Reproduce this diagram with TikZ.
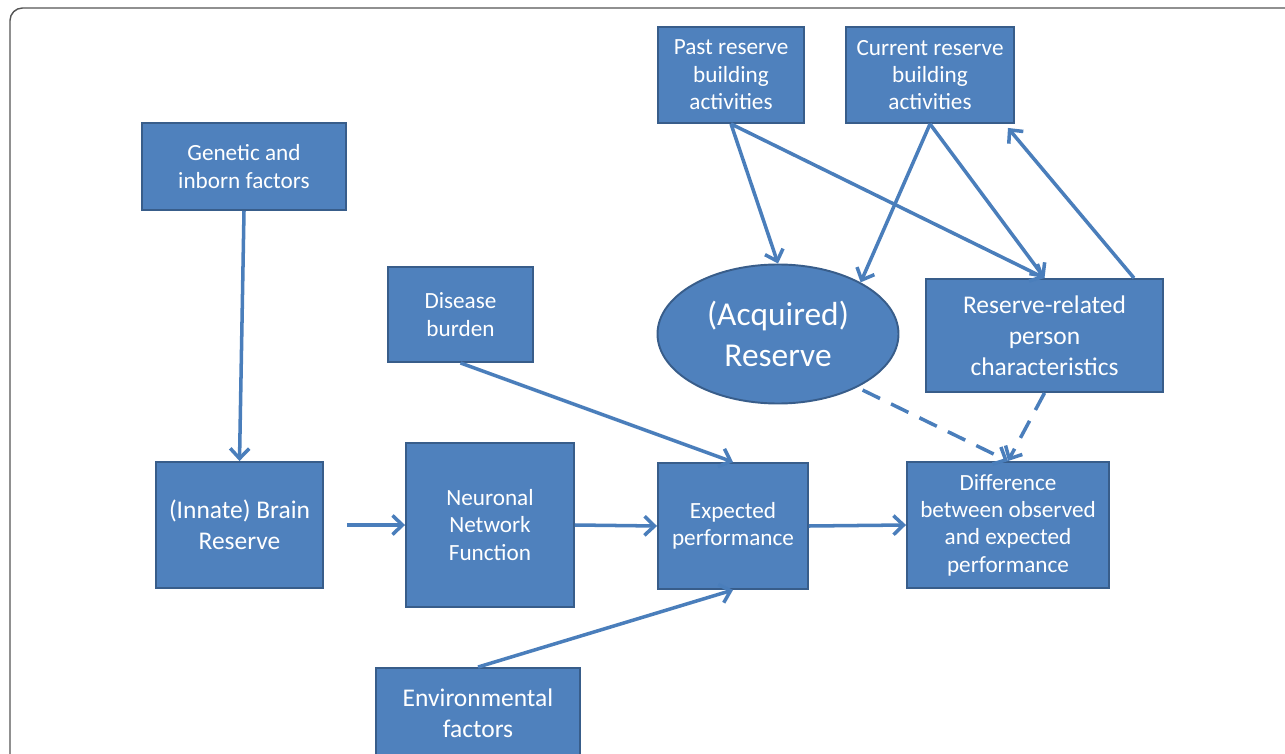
\documentclass[tikz,border=0pt]{standalone}
\usepackage{fontspec}
\setmainfont{Carlito}
\usepackage{tikz}
\usetikzlibrary{positioning, arrows.meta, shapes.geometric}

\definecolor{boxfill}{HTML}{4F81BD}
\definecolor{boxline}{HTML}{385D8A}
\definecolor{arrowblue}{HTML}{4A7EBB}
\definecolor{framegray}{HTML}{555555}

\begin{document}
\begin{tikzpicture}[>={Straight Barb[length=2mm, width=3.8mm]},
  box/.style={draw=boxline, fill=boxfill, line width=1.1pt, text=white,
    align=center, inner sep=0pt},
  smalltext/.style={font=\fontsize{13.2}{15.6}\selectfont},
  bigtext/.style={font=\fontsize{14.5}{17.6}\selectfont},
  link/.style={->, arrowblue, line width=2pt},
  maybe/.style={link, dash pattern=on 11pt off 7pt}]

\useasboundingbox (0, 0) rectangle (25.7, 15.06);

% --- Outer frame ---
\draw[framegray, line width=0.8pt, rounded corners=0.25cm]
  (0.2, -0.5) -- (0.2, 14.9) -- (26.0, 14.9);

% --- Top row: reserve building activities ---
\node[box, smalltext, minimum width=2.92cm, minimum height=1.92cm]
  (past) at (14.62, 13.56) {Past reserve\\building\\activities};
\node[box, smalltext, minimum width=3.36cm, minimum height=1.92cm]
  (current) at (18.60, 13.56) {Current reserve\\building\\activities};

% --- Left column ---
\node[box, smalltext, minimum width=4.08cm, minimum height=1.74cm]
  (genetic) at (4.88, 11.73) {Genetic and\\inborn factors};
\node[box, smalltext, minimum width=2.90cm, minimum height=1.90cm]
  (disease) at (9.21, 8.77) {Disease\\burden};

% --- Acquired reserve and person characteristics ---
\node[ellipse, box, font=\fontsize{19}{23.2}\selectfont,
  minimum width=4.82cm, minimum height=2.78cm]
  (acquired) at (15.56, 8.38) {(Acquired)\\Reserve};
\node[box, bigtext, minimum width=4.74cm, minimum height=2.26cm]
  (related) at (20.89, 8.35) {Reserve-related\\person\\characteristics};

% --- Main chain ---
\node[box, bigtext, minimum width=3.34cm, minimum height=2.52cm]
  (innate) at (4.79, 4.56) {(Innate) Brain\\Reserve};
\node[box, smalltext, minimum width=3.36cm, minimum height=3.28cm]
  (neuronal) at (9.80, 4.56) {Neuronal\\Network\\Function};
\node[box, smalltext, minimum width=3.00cm, minimum height=2.52cm]
  (expected) at (14.66, 4.54) {Expected\\performance};
\node[box, smalltext, minimum width=4.04cm, minimum height=2.52cm]
  (difference) at (20.16, 4.56)
  {Difference\\between observed\\and expected\\performance};

% --- Environment (cut by the page edge) ---
\node[box, bigtext, minimum width=4.08cm, minimum height=1.80cm]
  (environ) at (9.56, 0.80) {Environmental\\factors};

% --- Solid links ---
\draw[link] (genetic.south) -- (innate.north);
\draw[link, shorten <=0.46cm] (innate.east) -- (neuronal.west);
\draw[link] (neuronal.east) -- (expected.west);
\draw[link] (expected.east) -- (difference.west);
\draw[link] (disease.south) -- (expected.north);
\draw[link] (environ.north) -- (expected.south);
\draw[link] (past.south) -- (acquired.north);
\draw[link] (past.south) -- (related.north);
\draw[link] (current.south) -- (acquired.32);
\draw[link] (current.south) -- (related.north);
\draw[link] ([xshift=-0.6cm]related.north east)
  -- ([shift={(-0.14, -0.08)}]current.south east);

% --- Dashed links ---
\draw[maybe, shorten <=0.12cm] (acquired.-34) -- (difference.north);
\draw[maybe] (related.south) -- (difference.north);

\end{tikzpicture}
\end{document}
